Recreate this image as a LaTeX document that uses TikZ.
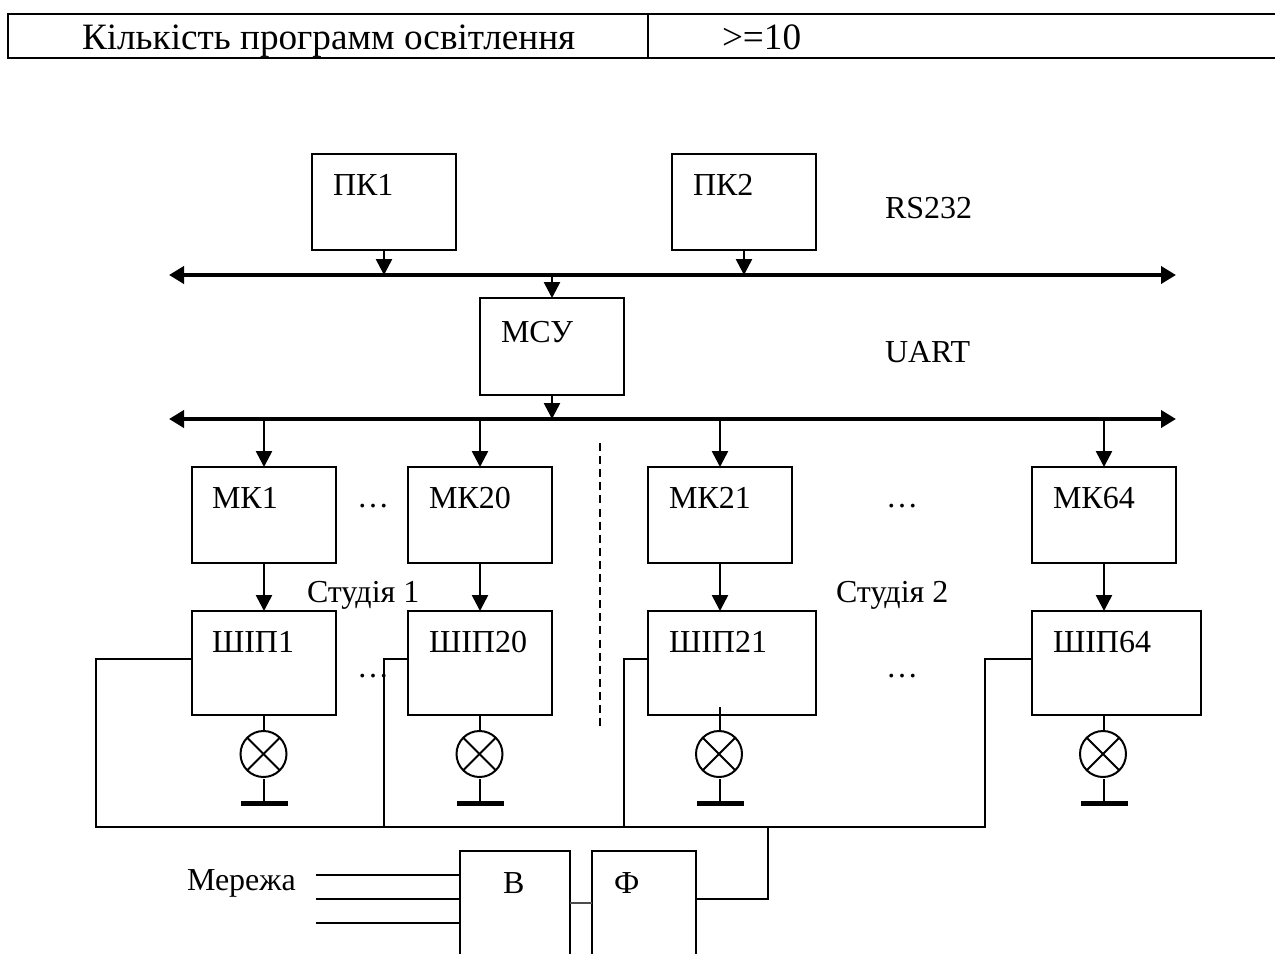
\documentclass[tikz,border=0pt]{standalone}
\usepackage{fontspec}
\setmainfont{Liberation Serif}
\usetikzlibrary{arrows.meta}
\tikzset{
  bx/.style={draw=black,line width=2.3pt,inner sep=0pt,outer sep=0pt,minimum width=144pt,minimum height=96pt,fill=none},
  lbl/.style={inner sep=0pt,outer sep=0pt,anchor=base west,font=\fontsize{32}{34}\selectfont},
  hdr/.style={inner sep=0pt,outer sep=0pt,anchor=base west,font=\fontsize{37.2}{39}\selectfont},
  wire/.style={line width=2.4pt,line cap=round},
  thinw/.style={line width=1.9pt},
  busl/.style={line width=4pt,{Triangle[length=15pt,width=17pt]}-{Triangle[length=15pt,width=17pt]}},
  stem/.style={line width=2.6pt,-{Triangle[length=16pt,width=16pt]}},
  lampc/.style={draw=black,line width=2pt,circle,minimum size=46pt,inner sep=0pt,outer sep=0pt},
  gnd/.style={fill=black,inner sep=0pt,outer sep=0pt,minimum width=47pt,minimum height=5pt},
  open/.style={inner sep=0pt,outer sep=0pt}
}
\begin{document}
\begin{tikzpicture}[x=1pt,y=-1pt]
\useasboundingbox (0,0) rectangle (1275,954);
% header table
\coordinate (tl) at (8,14);
\coordinate (tr) at (1275,58);
\coordinate (dvt) at (648,14);
\coordinate (dvb) at (648,58);
\draw[line width=2.4pt] (1275,14) -- (tl) |- (tr);
\draw[line width=2.4pt] (dvt) -- (dvb);
\node[hdr] (h1) at (82,49) {Кількість программ освітлення};
\node[hdr] (h2) at (722,49) {>=10};
% boxes
\node[bx] (pk1) at (384,202) {};
\node[bx] (pk2) at (744,202) {};
\node[bx,minimum height=97pt] (msu) at (552,346.5) {};
\node[bx] (mk1) at (264,515) {};
\node[bx] (mk20) at (480,515) {};
\node[bx] (mk21) at (720,515) {};
\node[bx] (mk64) at (1104,515) {};
\node[bx,minimum width=144pt,minimum height=104pt] (sh1) at (264,663) {};
\node[bx,minimum width=144pt,minimum height=104pt] (sh20) at (480,663) {};
\node[bx,minimum width=168pt,minimum height=104pt] (sh21) at (732,663) {};
\node[bx,minimum width=169pt,minimum height=104pt] (sh64) at (1116.5,663) {};
% labels
\node[lbl] (tpk1) at (333,195) {ПК1};
\node[lbl] (tpk2) at (693,195) {ПК2};
\node[lbl] (trs) at (885,218) {RS232};
\node[lbl] (tua) at (885,362) {UART};
\node[lbl] (tmsu) at (501,342) {МСУ};
\node[lbl] (tmk1) at (212,508) {МК1};
\node[lbl] (tmk20) at (429,508) {МК20};
\node[lbl] (tmk21) at (669,508) {МК21};
\node[lbl] (tmk64) at (1053,508) {МК64};
\node[lbl] (tsh1) at (212,652) {ШІП1};
\node[lbl] (tsh20) at (429,652) {ШІП20};
\node[lbl] (tsh21) at (669,652) {ШІП21};
\node[lbl] (tsh64) at (1053,652) {ШІП64};
\node[lbl] (ts1) at (307,602) {Студія 1};
\node[lbl] (ts2) at (836,602) {Студія 2};
\node[lbl] (d1) at (357,507) {…};
\node[lbl] (d2) at (886,507) {…};
\node[lbl] (d3) at (357,677) {…};
\node[lbl] (d4) at (886,677) {…};
\node[lbl] (tmer) at (187,890) {Мережа};
% buses
\coordinate (b1l) at (169,275);
\coordinate (b1r) at (1176,275);
\coordinate (b2l) at (169,419);
\coordinate (b2r) at (1176,419);
\draw[busl] (b1l) -- (b1r);
\draw[busl] (b2l) -- (b2r);
\draw[stem] (pk1.south) -- (pk1.south |- b1l);
\draw[stem] (pk2.south) -- (pk2.south |- b1l);
\draw[stem] (msu.north |- b1l) -- (msu.north);
\draw[stem] (msu.south) -- (msu.south |- b2l);
\foreach \m in {mk1,mk20,mk21,mk64}{
  \draw[stem] (\m.north |- b2l) -- (\m.north);
}
\draw[stem] (mk1.south) -- (sh1.north);
\draw[stem] (mk20.south) -- (sh20.north);
\draw[stem] (mk21.south) -- (mk21.south |- sh21.north);
\draw[stem] (mk64.south) -- (mk64.south |- sh64.north);
% divider
\coordinate (dash1) at (600,443);
\coordinate (dash2) at (600,728);
\draw[line width=1.2pt,dash pattern=on 8pt off 5.1pt] (dash1) -- (dash2);
% lamps
\foreach \n/\x/\lx/\top in {a/264/263.5/715,b/480/479.5/715,c/720/719/707,d/1104/1103/715}{
  \node[lampc] (l\n) at (\lx,754) {};
  \draw[line width=2pt] (l\n.45) -- (l\n.225);
  \draw[line width=2pt] (l\n.135) -- (l\n.315);
  \node[gnd] (g\n) at (\x,803) {};
  \coordinate (lt\n) at (\x,\top);
  \coordinate (lb\n) at (\x,779);
  \draw[thinw] (lt\n) -- (\x,731);
  \draw[thinw] (lb\n) -- (g\n.center);
}
% power wiring
\coordinate (tapa) at (96,659);
\coordinate (tapb) at (384,659);
\coordinate (tapc) at (624,659);
\coordinate (tapd) at (985,659);
\coordinate (jl) at (96,827);
\coordinate (jr) at (985,827);
\coordinate (jm) at (768,827);
\draw[wire] (sh1.west |- tapa) -- (tapa) -- (jl) -- (jr) -- (tapd) -- (sh64.west |- tapd);
\draw[wire] (sh20.west |- tapb) -- (tapb) -- (tapb |- jl);
\draw[wire] (sh21.west |- tapc) -- (tapc) -- (tapc |- jl);
% rectifier and filter (cut off by the page edge)
\node[open] (vb) at (515,902.5) [minimum width=110pt,minimum height=103pt] {};
\node[open] (fb) at (644,902.5) [minimum width=104pt,minimum height=103pt] {};
\draw[line width=2.3pt] (vb.south west) -- (vb.north west) -- (vb.north east) -- (vb.south east);
\draw[line width=2.3pt] (fb.south west) -- (fb.north west) -- (fb.north east) -- (fb.south east);
\node[lbl] (tv) at (503,893) {В};
\node[lbl] (tf) at (614,893) {Ф};
\coordinate (m1) at (316,875);
\coordinate (m2) at (316,899);
\coordinate (m3) at (316,923);
\draw[wire,line cap=butt] (m1) -- (m1 -| vb.west);
\draw[wire,line cap=butt] (m2) -- (m2 -| vb.west);
\draw[wire,line cap=butt] (m3) -- (m3 -| vb.west);
\coordinate (cv) at (570,903);
\draw[line width=1.8pt,black!70] (cv) -- (cv -| fb.west);
\coordinate (fo) at (696,899);
\draw[wire] (fo) -| (jm);
\end{tikzpicture}
\end{document}
